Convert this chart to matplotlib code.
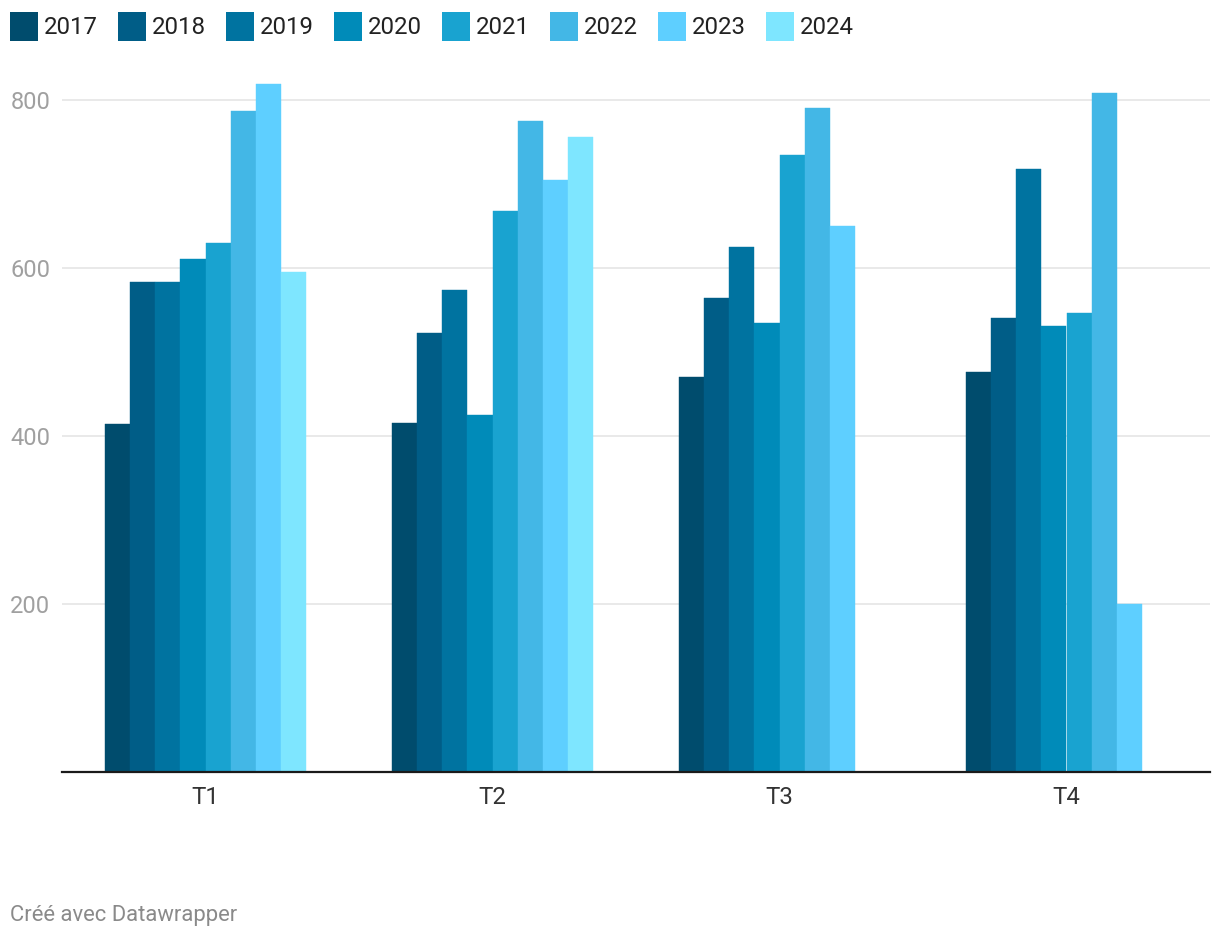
import numpy as np
import matplotlib.pyplot as plt
from matplotlib.patches import Rectangle

plt.rcParams['font.family'] = ['Roboto', 'DejaVu Sans']

quarters = ['T1', 'T2', 'T3', 'T4']
years = ['2017', '2018', '2019', '2020', '2021', '2022', '2023', '2024']

# values per year, one entry per quarter (nan = no data yet)
v2017 = [414, 415, 470, 476]
v2018 = [583, 523, 564, 540]
v2019 = [583, 574, 625, 718]
v2020 = [611, 425, 535, 531]
v2021 = [630, 668, 735, 546]
v2022 = [787, 775, 790, 808]
v2023 = [819, 705, 650, 200]
v2024 = [595, 756, np.nan, np.nan]
series = [v2017, v2018, v2019, v2020, v2021, v2022, v2023, v2024]

colors = ['#004c6d', '#005d87', '#0073a0', '#008bb9',
          '#19a3d0', '#43b7e6', '#5ecfff', '#7ee6ff']

W, H = 1220, 940
fig = plt.figure(figsize=(W / 100, H / 100), dpi=100)
ax = fig.add_axes([62 / W, 1 - 772 / H, (1210 - 62) / W, (772 - 83.2) / H])

x = np.arange(len(quarters))
bw = 0.0875
for j, (vals, col) in enumerate(zip(series, colors)):
    # thin edge in the same colour hides the antialiasing seam between bars
    ax.bar(x + (j - 3.5) * bw, vals, width=bw, color=col, edgecolor=col,
           linewidth=0.3, zorder=3)

ax.set_xlim(-0.5, 3.5)
ax.set_ylim(0, 820)
ax.set_yticks([200, 400, 600, 800])
ax.set_xticks(x)
ax.set_xticklabels(quarters)
ax.yaxis.grid(True, color='#e5e5e5', linewidth=1.2, zorder=0)
ax.set_axisbelow(True)

for s in ['top', 'right', 'left']:
    ax.spines[s].set_visible(False)
ax.spines['bottom'].set_color('#1a1a1a')
ax.spines['bottom'].set_linewidth(1.6)
ax.spines['bottom'].set_zorder(4)

ax.tick_params(axis='y', length=0, pad=8.5, labelsize=17, labelcolor='#a0a0a0')
ax.tick_params(axis='x', length=0, pad=10, labelsize=17.3, labelcolor='#333333')

# legend across the top
for j, (yr, col) in enumerate(zip(years, colors)):
    x0 = 10 + j * 108
    fig.patches.append(Rectangle((x0 / W, 1 - 41 / H), 28 / W, 29 / H,
                                 transform=fig.transFigure, color=col,
                                 linewidth=0))
    fig.text((x0 + 34) / W, 1 - 27.5 / H, yr, fontsize=17.3, color='#222222',
             va='center', ha='left')

fig.text(10 / W, 1 - 915.5 / H, 'Créé avec Datawrapper', fontsize=15.8,
         color='#8a8a8a', va='center', ha='left')

fig.savefig('out.png', dpi=100, facecolor='white')
